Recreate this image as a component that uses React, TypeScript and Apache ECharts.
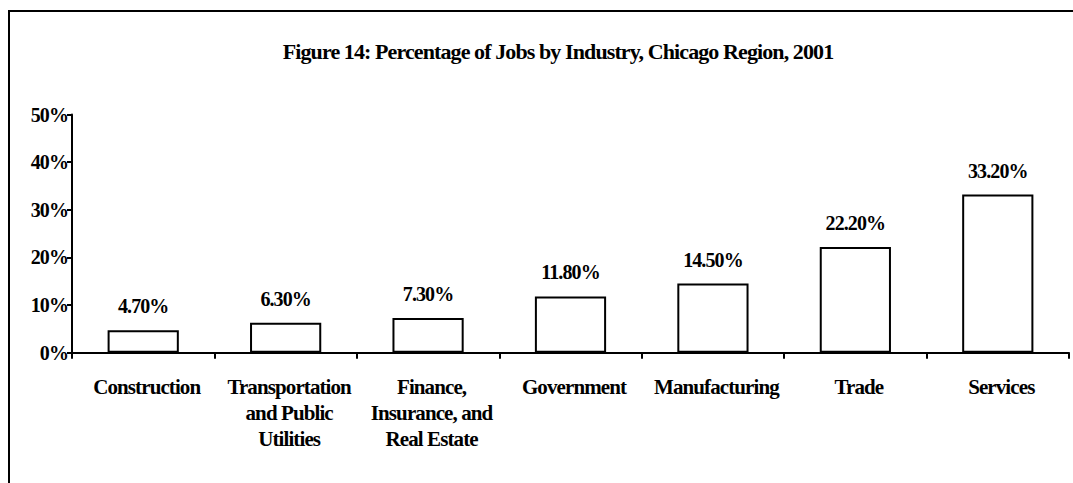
import React, { useEffect, useRef } from "react";
import * as echarts from "echarts";

const categories = [
  "Construction",
  "Transportation\nand Public\nUtilities",
  "Finance,\nInsurance, and\nReal Estate",
  "Government",
  "Manufacturing",
  "Trade",
  "Services",
];
const values = [4.7, 6.3, 7.3, 11.8, 14.5, 22.2, 33.2];
const titleText = "Figure 14: Percentage of Jobs by Industry, Chicago Region, 2001";

const FONT = "'Liberation Serif', 'Times New Roman', serif";

export default function App() {
  const ref = useRef<HTMLDivElement>(null);
  useEffect(() => {
    document.body.style.margin = "0";
    const st = document.createElement("style");
    st.textContent = ".chartbox svg text { letter-spacing: -0.9px; }";
    document.head.appendChild(st);
    const chart = echarts.init(ref.current!, null, { renderer: "svg" });
    chart.setOption({
      animation: false,
      backgroundColor: "#ffffff",
      textStyle: { fontFamily: FONT },
      graphic: [
        {
          type: "rect",
          shape: { x: 9, y: 11, width: 1200, height: 600 },
          style: { fill: "none", stroke: "#000", lineWidth: 2 },
          silent: true,
        },
        {
          type: "text",
          x: 558,
          y: 51,
          style: {
            text: titleText,
            fontFamily: FONT,
            fontWeight: "bold",
            fontSize: 22,
            fill: "#000",
            textAlign: "center",
            textVerticalAlign: "middle",
          },
        },
      ],
      grid: { left: 72, right: 4, top: 114.5, bottom: 130.3, containLabel: false },
      xAxis: {
        type: "category",
        data: categories,
        axisLine: { lineStyle: { color: "#000", width: 2 } },
        axisTick: { show: true, length: 6, lineStyle: { color: "#000", width: 2 } },
        axisLabel: {
          interval: 0,
          margin: 21,
          padding: [0, 0, 0, 7],
          color: "#000",
          fontFamily: FONT,
          fontWeight: "bold",
          fontSize: 21,
          lineHeight: 26,
        },
      },
      yAxis: {
        type: "value",
        min: 0,
        max: 50,
        interval: 10,
        splitLine: { show: false },
        axisLine: { show: true, lineStyle: { color: "#000", width: 2 } },
        axisTick: { show: true, length: 5, lineStyle: { color: "#000", width: 2 } },
        axisLabel: {
          formatter: "{value}%",
          margin: 4,
          color: "#000",
          fontFamily: FONT,
          fontWeight: "bold",
          fontSize: 20,
        },
      },
      series: [
        {
          type: "bar",
          data: values,
          barWidth: "50%",
          itemStyle: { color: "#fff", borderColor: "#000", borderWidth: 2 },
          label: {
            show: true,
            position: "top",
            distance: 14,
            formatter: (p: any) => p.value.toFixed(2) + "%",
            color: "#000",
            fontFamily: FONT,
            fontWeight: "bold",
            fontSize: 20,
          },
        },
      ],
    });
    return () => {
      chart.dispose();
      st.remove();
    };
  }, []);
  return <div ref={ref} className="chartbox" style={{ width: 1073, height: 483 }} />;
}
